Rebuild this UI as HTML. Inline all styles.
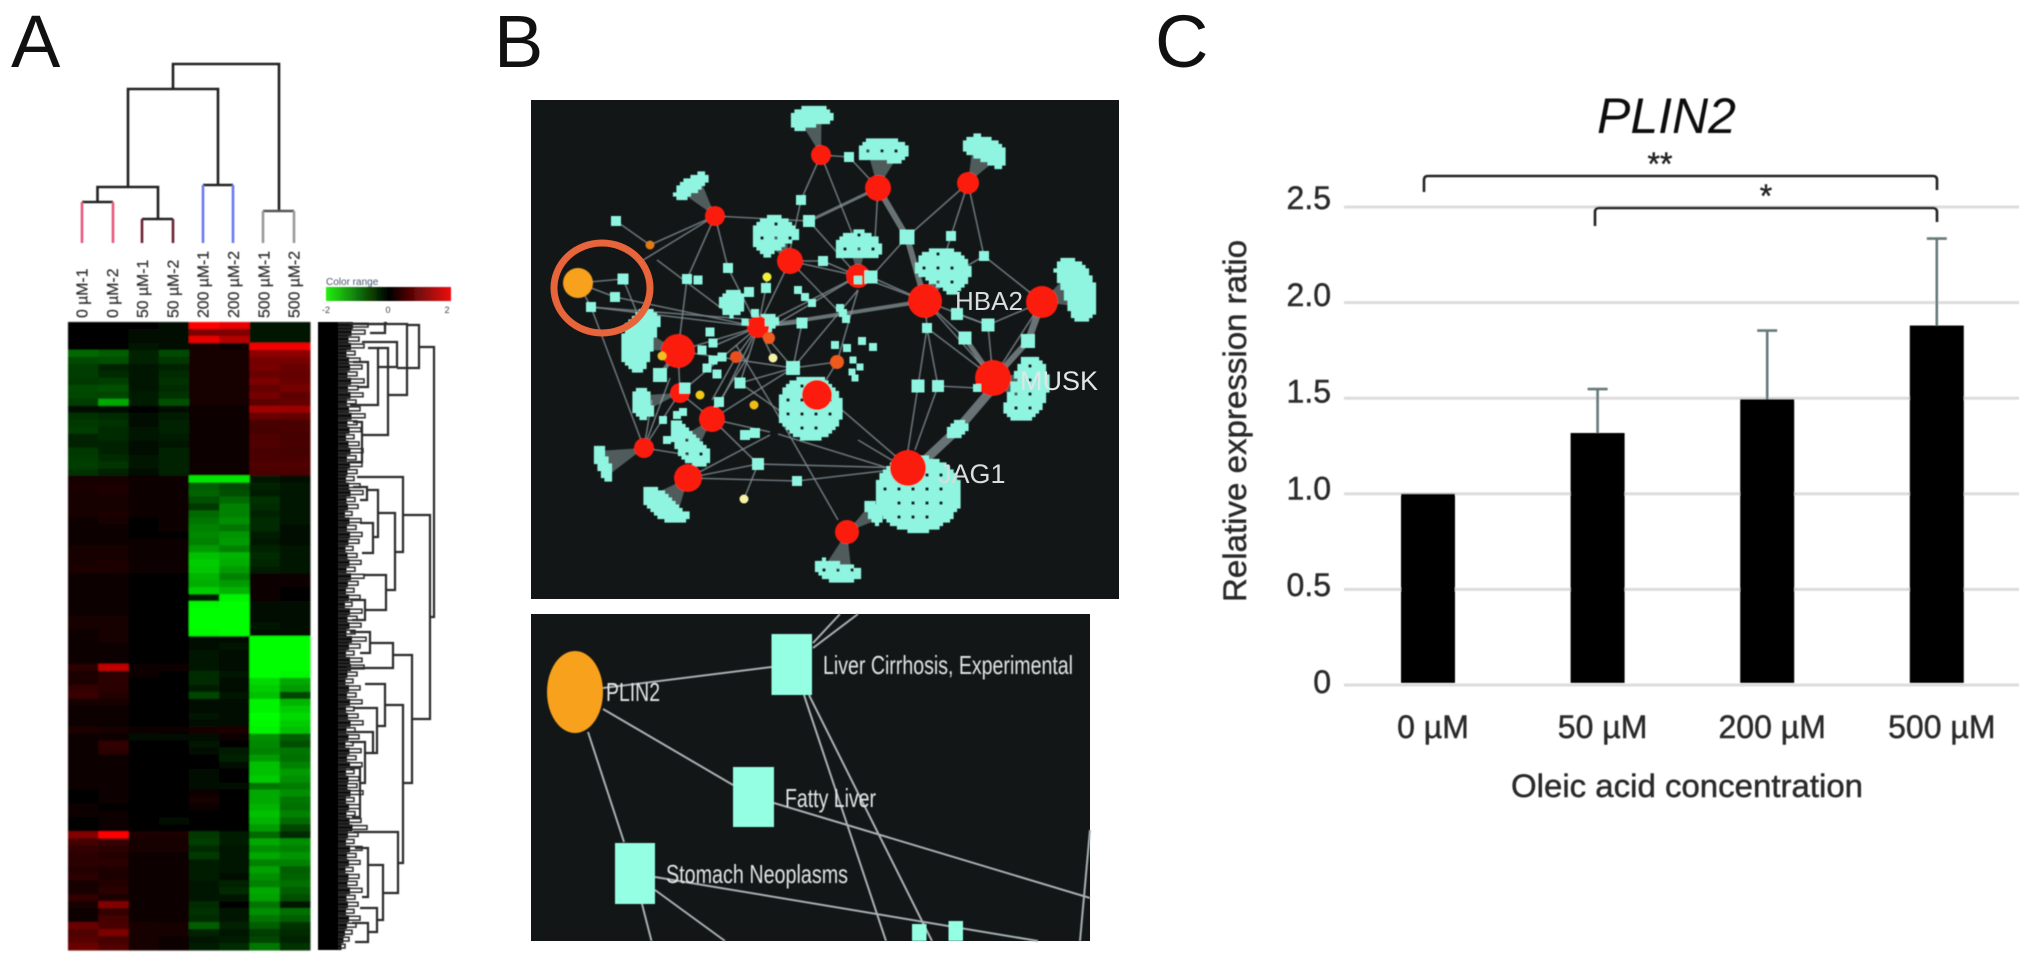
<!DOCTYPE html>
<html lang="en">
<head>
<meta charset="utf-8">
<title>PLIN2 expression figure</title>
<style>
html,body{margin:0;padding:0;background:#fff;width:2031px;height:963px;overflow:hidden}
svg{display:block}
text{font-family:"Liberation Sans",sans-serif}
#panelC text{stroke:#2a2a2a;stroke-width:.45px}
#colLabels text{stroke:#333;stroke-width:.25px}
</style>
</head>
<body>
<svg id="figure" xmlns="http://www.w3.org/2000/svg" width="2031" height="963" viewBox="0 0 2031 963">
<defs>
<filter id="soft" x="-5%" y="-5%" width="110%" height="110%"><feGaussianBlur stdDeviation="0.9"/></filter>
<filter id="softer" x="-5%" y="-5%" width="110%" height="110%"><feGaussianBlur stdDeviation="0.45"/></filter>
<linearGradient id="colorRange" x1="0" x2="1" y1="0" y2="0">
<stop offset="0" stop-color="#22f010"/><stop offset="0.5" stop-color="#000"/><stop offset="1" stop-color="#f01010"/>
</linearGradient>
</defs>
<rect width="2031" height="963" fill="#fff"/>

<text x="11" y="67" font-size="74" fill="#111">A</text>
<text x="494" y="67" font-size="74" fill="#111">B</text>
<text x="1155" y="67" font-size="74" fill="#111">C</text>

<g id="panelA">
  <g id="colDendro" filter="url(#softer)" fill="none" stroke-width="2.6"></g>
  <g id="colLabels" filter="url(#softer)"></g>
  <g id="heatCells" filter="url(#soft)"></g>
  <g id="rowDendro" filter="url(#softer)"></g>
  <g filter="url(#softer)">
    <text x="326" y="285" font-size="10" fill="#4a5570">Color range</text>
    <rect x="326" y="287" width="125" height="14" fill="url(#colorRange)"/>
    <text x="326" y="313" font-size="9" fill="#444" text-anchor="middle">-2</text>
    <text x="388" y="313" font-size="9" fill="#444" text-anchor="middle">0</text>
    <text x="447" y="313" font-size="9" fill="#444" text-anchor="middle">2</text>
  </g>
</g>

<g id="panelB">
  <rect x="531" y="100" width="588" height="499" fill="#121616"/>
  <g id="netGraph" filter="url(#softer)"></g>
  <ellipse cx="602" cy="288" rx="48" ry="45" fill="none" stroke="#e8643a" stroke-width="7"/>
  <text x="955" y="310" font-size="26" fill="#d8dede">HBA2</text>
  <text x="1020" y="390" font-size="27" fill="#e0e6e6">MUSK</text>
  <text x="938" y="483" font-size="27" fill="#d8dede">JAG1</text>

  <rect x="531" y="614" width="559" height="327" fill="#121616"/>
  <g filter="url(#softer)">
    <g id="detailEdges" stroke="#a9b0b4" stroke-width="2"></g>
    <ellipse cx="575" cy="692" rx="28" ry="41" fill="#f7a11a"/>
    <rect x="771.5" y="634" width="40.5" height="61" fill="#95ffe4"/>
    <rect x="733" y="767" width="41" height="60" fill="#95ffe4"/>
    <rect x="615" y="843" width="40" height="61" fill="#95ffe4"/>
    <rect x="912" y="924" width="14.5" height="17" fill="#95ffe4"/>
    <rect x="948.5" y="921" width="14.5" height="20" fill="#95ffe4"/>
    <text x="606" y="701" font-size="26" fill="#dfe4e4" textLength="54" lengthAdjust="spacingAndGlyphs">PLIN2</text>
    <text x="823" y="674" font-size="26" fill="#dfe4e4" textLength="250" lengthAdjust="spacingAndGlyphs">Liver Cirrhosis, Experimental</text>
    <text x="785" y="807" font-size="26" fill="#dfe4e4" textLength="91" lengthAdjust="spacingAndGlyphs">Fatty Liver</text>
    <text x="666" y="883" font-size="26" fill="#dfe4e4" textLength="182" lengthAdjust="spacingAndGlyphs">Stomach Neoplasms</text>
  </g>
</g>

<g id="panelC" filter="url(#softer)">
  <text x="1597" y="133" font-size="50" font-style="italic" fill="#111" style="stroke:none">PLIN2</text>
  <g id="grid"></g>
  <g id="yTicks"></g>
  <g id="bars"></g>
  <g id="errs"></g>
  <g id="xTicks"></g>
  <text transform="translate(1246,602) rotate(-90)" font-size="32" fill="#2a2a2a" textLength="362" lengthAdjust="spacingAndGlyphs">Relative expression ratio</text>
  <text x="1511" y="797" font-size="32" fill="#2a2a2a" textLength="352" lengthAdjust="spacingAndGlyphs">Oleic acid concentration</text>
  <path d="M1424 192V180Q1424 176 1428 176H1933Q1937 176 1937 180V190" fill="none" stroke="#222" stroke-width="2.6"/>
  <path d="M1595 226V212Q1595 208 1599 208H1933Q1937 208 1937 212V222" fill="none" stroke="#222" stroke-width="2.6"/>
  <text x="1660" y="175" font-size="32" fill="#222" text-anchor="middle">**</text>
  <text x="1766" y="207" font-size="32" fill="#222" text-anchor="middle">*</text>
</g>

<script>
/* ---------- Panel C data ---------- */
const categories = ['0 µM', '50 µM', '200 µM', '500 µM'];
const barValues = [1.0, 1.318, 1.495, 1.88];
const errorTops = [null, 1.548, 1.854, 2.335];
const yTickValues = [0, 0.5, 1.0, 1.5, 2.0, 2.5];
const yTickLabels = ['0', '0.5', '1.0', '1.5', '2.0', '2.5'];

/* ---------- Panel A data ---------- */
const sampleLabels = ['0 µM-1','0 µM-2','50 µM-1','50 µM-2','200 µM-1','200 µM-2','500 µM-1','500 µM-2'];
const heatmapRows = [
[0,0,0,-.05,2,1.8,-.15,-.1],
[0,0,-.05,-.05,1.0,1.0,-.15,-.1],
[0,0,-.05,-.05,1.8,1.4,-.15,-.1],
[0,0,-.1,-.05,.1,.05,1.9,1.9],
[-.8,-.7,-.25,-.55,.15,.15,1.1,1.1],
[-.55,-.6,-.25,-.4,.15,.15,.9,.9],
[-.45,-.25,-.12,-.25,.15,.15,.9,.8],
[-.45,-.3,-.12,-.3,.15,.15,.8,.75],
[-.4,-.45,-.15,-.35,.12,.12,.95,.8],
[-.55,-.6,-.15,-.3,.12,.12,.75,.9],
[-.5,-.5,-.2,-.35,.15,.15,.9,.7],
[-.45,-1.3,-.2,-.6,.12,.15,.7,.75],
[-.05,-.05,0,-.05,.02,.02,1.25,1.2],
[-.35,-.3,-.08,-.2,.05,.05,.8,.75],
[-.4,-.35,-.08,-.22,.05,.04,.55,.55],
[-.45,-.3,-.1,-.22,.05,.04,.5,.55],
[-.25,-.3,-.1,-.18,.04,.03,.6,.5],
[-.25,-.22,-.08,-.15,.04,.03,.6,.55],
[-.4,-.25,-.08,-.22,.05,.03,.55,.5],
[-.42,-.3,-.1,-.22,.05,.03,.55,.55],
[-.45,-.38,-.1,-.25,.05,.03,.6,.6],
[-.35,-.25,-.08,-.22,.04,.03,.55,.55],
[.1,.12,.02,.02,-1.8,-1.8,-.15,-.08],
[.2,.18,.02,.03,-.7,-.55,-.25,-.15],
[.15,.2,.02,.03,-.75,-.6,-.2,-.15],
[.12,.15,.02,.02,-.6,-.8,-.35,-.12],
[.12,.12,.02,.02,-.4,-1.0,-.3,-.1],
[.1,.2,.02,.03,-.8,-1.0,-.25,-.1],
[.08,.15,.01,.02,-.9,-1.1,-.3,-.12],
[.05,.06,.01,.02,-1.0,-.9,-.3,-.08],
[.05,.05,.01,.01,-1.05,-1.15,-.2,-.08],
[.08,.08,.02,.02,-1.0,-1.2,-.15,-.05],
[.1,.1,.02,.02,-1.2,-1.0,-.25,-.1],
[.12,.12,.03,.03,-1.5,-1.4,-.3,-.1],
[.15,.18,.03,.03,-1.6,-1.35,-.28,-.14],
[.2,.2,.03,.03,-1.55,-1.2,-.2,-.12],
[.03,.04,0,0,-1.4,-1.0,.08,.03],
[.02,.03,0,0,-1.35,-1.2,.03,.02],
[.02,.03,0,0,-1.6,-1.4,.02,.01],
[.02,.05,0,0,-.2,-1.9,.02,.01],
[.03,.03,0,0,-1.95,-2,-.03,-.02],
[.05,.05,0,0,-2,-2,-.04,-.02],
[.1,.1,0,0,-2,-2,-.08,-.03],
[.1,.12,0,0,-2,-2,-.1,-.03],
[.08,.1,0,0,-1.95,-2,-.08,-.02],
[.08,.1,0,0,-.02,-.08,-2,-2],
[.05,.06,0,0,-.05,-.1,-2,-2],
[.03,.05,0,0,-.1,-.04,-2,-2],
[.05,.06,0,0,-.1,-.05,-2,-2],
[.3,1.5,.02,.02,-.15,-.05,-2,-2],
[.2,.3,.02,.01,-.3,-.1,-2,-1.95],
[.2,.3,.01,.01,-.3,-.08,-1.7,-1.3],
[.35,.3,.01,.01,-.2,-.05,-1.6,-1.2],
[.4,.25,.01,.01,-.5,-.15,-1.5,-.5],
[.1,.1,0,0,-.05,-.05,-1.9,-1.4],
[.05,.08,0,0,-.05,-.04,-1.9,-1.6],
[.05,.05,0,0,-.1,-.04,-2,-1.7],
[.05,.05,0,0,-.08,-.03,-1.95,-1.6],
[.2,.15,.05,.03,.15,.2,-1.9,-1.5],
[.03,.03,-.04,-.02,-.05,.02,-1.1,-.7],
[.02,.35,0,0,-.12,0,-1.05,-.6],
[.02,.3,0,0,-.05,-.2,-1.0,-.9],
[.02,.08,0,0,0,-.25,-1.2,-.85],
[.02,.05,0,0,0,-.08,-1.5,-1.0],
[.02,.02,0,0,-.02,0,-1.5,-1.2],
[.02,.02,0,0,-.02,0,-1.6,-1.1],
[.02,.02,0,0,-.04,-.02,-.9,-.95],
[0,.03,0,0,.08,0,-1.3,-1.1],
[0,.02,0,0,.15,0,-1.3,-.9],
[.02,0,0,0,.02,0,-1.4,-.85],
[.02,.02,0,0,0,0,-1.5,-1.0],
[0,.02,0,-.03,0,0,-1.4,-.8],
[0,.02,0,0,0,0,-1.2,-.5],
[1.0,2,.2,.2,-.4,-.2,-.8,-.3],
[.5,.4,.12,.15,-.45,-.2,-1.3,-1.1],
[.35,.3,.1,.1,-.3,-.15,-1.1,-1.0],
[.3,.25,.08,.08,-.4,-.12,-1.3,-1.15],
[.3,.3,.05,.05,-.2,-.12,-1.0,-1.0],
[.25,.2,.05,.05,-.2,-.1,-1.25,-.7],
[.3,.2,.05,.05,-.2,-.08,-1.1,-.75],
[.15,.25,.05,.04,-.15,-.25,-1.0,-.85],
[.1,.3,.05,.04,-.15,-.3,-1.3,-.7],
[.35,.2,.05,.04,-.1,-.1,-1.25,-.6],
[.15,1.0,.05,.04,-.3,0,-.9,-.1],
[.08,.35,.06,.05,-.35,-.1,-1.1,-.85],
[.05,.5,.08,.07,-.3,-.1,-.9,-.7],
[.8,.55,.12,.1,-.7,-.25,-.7,-.35],
[.6,.95,.12,.1,-.25,-.1,-.45,-.3],
[.65,.5,.1,.08,-.12,-.2,-.5,-.25],
[.8,.6,.1,.08,-.2,-.3,-.9,-.35]
];
const leafDepths = [30,27,21,26,17,22,24,19,26,20,25,18,22,27,19,23,16,21,25,18,24,19,16,22,25,17,20,14,23,18,24,21,15,19,23,17,26,20,16,22,14,24,19,23,17,28,22,16,24,26,19,15,22,18,24,16,20,25,17,21,15,23,18,24,16,21,19,25,16,22,17,23,29,20,16,24,18,22,15,21,19,24,17,20,16,22,18,14,11,7];
/* [merge distance, upper leaf, upper child distance, lower leaf, lower child distance] */
const rowMerges = [
[89,25,75,295,84],[74,3,62,46,52],[62,2,15,73,43],[52,20,17,45,33],[43,26,33,113,17],
[33,26,23,83,5],[23,40,8,65,12],[17,100,8,140,3],[40,1,42,8,40],[40,2,5,11,25],
[85,193,58,397,67],[58,155,12,230,50],[50,191,33,268,41],[33,168,22,215,28],[22,165,8,178,15],
[28,201,15,231,17],[41,253,18,288,20],[20,278,5,298,7],[67,333,48,461,58],[48,321,25,346,2],
[25,310,5,331,15],[58,383,40,541,53],[40,362,20,404,32],[32,386,8,431,28],[28,410,2,431,20],
[20,420,5,461,15],[15,446,5,495,7],[53,510,8,571,38],[38,543,23,598,32],[23,526,10,575,17],
[32,586,15,610,23],[23,601,7,620,10]
];

/* ---------- Panel B layout ---------- */
const hubs = [[821,155,10],[878,188,13],[968,183,11],[715,216,10],[790,261,13],[858,276,12],[925,301,17],[1042,302,16],[993,378,18],[758,327,11],[678,351,17],[680,393,10],[712,419,13],[644,448,10],[688,478,14],[847,532,12],[908,468,18],[817,395,15]];
const minorNodes = [[769,338,6,'#f05a1e'],[736,357,6,'#e8501e'],[837,362,7,'#ee5a1e'],[650,245,4.5,'#e07a18'],[767,277,4.5,'#eef03c'],[662,356,4.5,'#f0c020'],[700,395,4.5,'#f0c818'],[754,405,4.5,'#f0bc18'],[773,358,4.5,'#f6f2a8'],[744,499,4.5,'#f7f3a5']];
const squareNodes = [[616,221,10],[623,279,11],[615,297,10],[591,307,10],[687,279,10],[698,280,9],[728,268,10],[749,292,10],[766,288,10],[802,323,11],[823,261,10],[809,221,12],[801,200,10],[849,157,10],[793,368,14],[740,383,11],[719,402,10],[758,464,12],[797,481,10],[951,236,10],[984,256,10],[988,325,13],[927,328,10],[918,386,13],[938,386,12],[977,388,8],[957,314,12],[858,280,8],[871,277,13],[835,345,8],[847,348,8],[862,341,8],[873,347,8],[798,290,8],[805,297,8],[812,303,8],[840,308,8],[843,313,8],[846,319,8],[702,350,9],[713,343,9],[710,332,9],[722,357,9],[713,360,9],[707,368,9],[717,374,9],[660,375,14],[685,388,11],[663,420,8],[677,415,8],[683,412,8],[667,440,8],[853,360,7],[860,367,7],[852,372,7],[855,378,7],[745,435,10],[755,433,10],[965,338,13],[1028,341,14],[907,237,15],[769,322,8],[755,313,8],[745,322,7]];
/* cx, cy, rx, ry, rotation, hub index (-1 none), fan half-width, dotted */
const clusters = [[811,119,21,13,-10,0,11,0],[883,152,25,15,0,1,16,1],[985,152,23,15,25,2,14,0],[692,187,20,10,-35,3,11,0],[775,237,23,21,0,4,12,1],[858,248,23,17,0,5,8,1],[942,272,28,24,0,6,12,1],[1075,290,20,33,-20,7,18,0],[1025,389,23,33,15,8,18,1],[732,303,12,14,10,-1,0,0],[642,340,20,32,15,10,10,0],[644,403,12,16,0,11,8,0],[690,443,15,27,-35,12,10,1],[604,463,8,18,-20,13,13,0],[665,505,26,14,35,14,16,0],[838,570,24,12,10,15,14,1],[918,494,43,38,0,16,0,1],[810,408,32,32,0,17,0,1],[873,513,9,13,-30,15,8,0],[957,430,11,8,-30,-1,0,0],[769,322,9,9,0,9,0,0]];
const edges = [[616,221,650,245],[650,245,715,216],[640,262,715,216],[623,279,578,283],[615,297,578,283],[591,307,578,283],[623,279,640,320],[615,297,758,327],[591,307,758,327],[591,307,758,320],[591,307,644,448],[657,260,733,317],[715,216,687,279],[687,279,678,351],[715,216,728,268],[728,268,758,327],[715,216,809,221],[801,200,821,155],[801,200,790,250],[821,155,852,233],[849,157,821,155],[849,157,878,188],[809,221,858,276],[878,188,875,240],[968,183,907,237],[968,183,951,236],[951,236,945,255],[968,183,984,256],[984,256,1042,302],[984,256,960,270],[907,237,871,277],[858,276,925,301],[871,277,925,301],[790,261,858,276],[790,261,823,261],[823,261,858,276],[790,261,846,319],[858,276,758,327],[858,276,758,335],[790,261,758,327],[766,288,758,327],[766,288,767,277],[925,301,988,325],[988,325,1042,302],[925,301,993,378],[988,325,993,378],[1042,302,993,378],[925,301,927,328],[927,328,993,378],[927,328,918,386],[927,328,938,386],[918,386,908,450],[938,386,915,450],[938,386,977,388],[925,301,965,338],[957,314,988,325],[908,468,758,464],[908,468,797,481],[797,481,688,478],[758,464,688,478],[778,434,888,468],[858,440,900,465],[842,410,900,460],[688,478,770,435],[712,419,770,432],[712,419,758,464],[758,464,744,499],[644,448,688,455],[838,520,775,410],[775,410,736,345],[793,368,758,327],[793,368,802,323],[793,368,837,362],[793,368,858,290],[793,368,740,383],[793,368,712,419],[793,368,678,351],[758,327,678,351],[758,327,736,357],[758,327,712,419],[758,327,680,393],[758,327,740,383],[758,327,773,358],[758,327,802,323],[758,327,716,345],[678,351,680,393],[680,393,712,419],[644,448,675,400],[712,419,719,402],[719,402,749,355],[740,383,793,420],[736,357,712,400],[837,362,817,395],[837,362,858,290],[644,448,670,378],[644,448,652,400]];
const thickEdges = [[809,221,878,188,3],[878,188,907,237,6],[907,237,925,301,6],[925,301,758,327,4],[1042,302,1028,341,7],[1028,341,1000,372,6],[965,338,993,378,5],[993,388,957,430,9],[957,430,925,460,9],[678,351,660,375,4]];
const detailEdgeList = [[603,688,771.5,667],[603,709,733,785],[588,732,624,842],[813,643,840,614],[813,648,858,614],[804,695,886,941],[809,695,932,941],[774,803,1090,898],[655,877,1038,941],[655,890,725,941],[642,904,651.5,941],[1090,830,1080,941]];

/* ---------- helpers ---------- */
const NS = 'http://www.w3.org/2000/svg';
function mk(tag, attrs, parent){
  const e = document.createElementNS(NS, tag);
  for (const k in attrs) e.setAttribute(k, attrs[k]);
  parent.appendChild(e);
  return e;
}
const $ = id => document.getElementById(id);

/* ---------- Panel C ---------- */
const yScale = v => 685 - v * 191.2;
const xBand = i => 1428 + i * 169.6;
const BAR_W = 54;
yTickValues.forEach((v, i) => {
  const line = mk('rect', {x:1344, y:yScale(v)-1.5, width:675, height:3, fill:'#dcdcdc'}, $('grid'));
  
  
  const t = mk('text', {x:1331, y:yScale(v)+8-v*2.4, 'font-size':32, fill:'#2a2a2a', 'text-anchor':'end'}, $('yTicks'));
  t.textContent = yTickLabels[i];
  
  
});
categories.forEach((c, i) => {
  const bar = mk('rect', {x:xBand(i)-BAR_W/2, y:yScale(barValues[i]), width:BAR_W, height:683-yScale(barValues[i]), fill:'#050505'}, $('bars'));
  
  
  const t = mk('text', {x:xBand(i)+5, y:738, 'font-size':32, fill:'#2a2a2a', 'text-anchor':'middle'}, $('xTicks'));
  t.textContent = c;
  
  
  if (errorTops[i] !== null) {
    const err = mk('path', {d:'M'+xBand(i)+' '+yScale(barValues[i])+'V'+yScale(errorTops[i])+'M'+(xBand(i)-10)+' '+yScale(errorTops[i])+'H'+(xBand(i)+10), fill:'none', stroke:'#66797a', 'stroke-width':2.6}, $('errs'));
    
    
  }
});

/* ---------- Panel A: heatmap ---------- */
const heatX = c => 68 + c * 30.25;
const heatY = r => 322 + r * (628 / heatmapRows.length);
function heatColor(v){
  const a = Math.min(1, Math.abs(v) / 2);
  const n = Math.round(5 + a * 250);
  return v >= 0 ? 'rgb('+n+',5,5)' : 'rgb(5,'+n+',5)';
}
heatmapRows.forEach((row, r) => {
  row.forEach((v, c) => {
    const cell = mk('rect', {x:heatX(c), y:heatY(r), width:30.75, height:628/heatmapRows.length+0.5, fill:heatColor(v)}, $('heatCells'));
    
    
  });
});
sampleLabels.forEach((s, i) => {
  const centers = 82 + i * 30.3;
  const t = mk('text', {transform:'translate('+(centers+5.5)+',318) rotate(-90)', 'font-size':15.8, fill:'#333'}, $('colLabels'));
  t.textContent = s;
  
  
});

/* column dendrogram */
const colSegments = [
 ['#222','M173 89V64H279V211'],
 ['#222','M128 187V89H218V185'],
 ['#222','M97.5 202V187H158V219'],
 ['#222','M82 202H113'],
 ['#e8587a','M82 202V243M113 202V243'],
 ['#222','M142 219H173'],
 ['#6a2232','M142 219V243M173 219V243'],
 ['#222','M203 185H233'],
 ['#6a78f0','M203 185V243M233 185V243'],
 ['#555','M263 211H294'],
 ['#999','M263 211V243M294 211V243']
];
colSegments.forEach(s => {
  const p = mk('path', {d:s[1], stroke:s[0]}, $('colDendro'));
  
  
});

/* row dendrogram */
const distX = d => 345 + d;
const leafY = l => 322 + l;
const blockBg = mk('rect', {x:318, y:322, width:20, height:628, fill:'#050505'}, $('rowDendro'));


leafDepths.forEach((d, r) => {
  const y = heatY(r);
  const a = mk('rect', {x:338, y:y, width:d*0.5, height:7, fill:'#0a0a0a'}, $('rowDendro'));
  
  
  const b = mk('path', {d:'M338 '+(y+1.2)+'H'+(338+d)+'V'+(y+5)+'H338', fill:'none', stroke:'#2a2a2a', 'stroke-width':1.5}, $('rowDendro'));
  
  
});
rowMerges.forEach(m => {
  const d = 'M'+distX(m[2])+' '+leafY(m[1])+'H'+distX(m[0])+'V'+leafY(m[3])+'H'+distX(m[4]);
  const p = mk('path', {d:d, fill:'none', stroke:'#2a2a2a', 'stroke-width':2.2}, $('rowDendro'));
  
  
});

/* ---------- Panel B ---------- */
const g = $('netGraph');
edges.forEach(e => {
  const l = mk('line', {x1:e[0], y1:e[1], x2:e[2], y2:e[3], stroke:'#7d8a90', 'stroke-width':1.6, 'stroke-opacity':.8}, g);
  
  
});
thickEdges.forEach(e => {
  const l = mk('line', {x1:e[0], y1:e[1], x2:e[2], y2:e[3], stroke:'#8d9a9e', 'stroke-width':e[4], 'stroke-opacity':.7}, g);
  
  
});
clusters.forEach(c => {
  const cx=c[0], cy=c[1], rx=c[2], ry=c[3], rot=c[4]*Math.PI/180, hub=c[5], w=c[6], dotted=c[7];
  let tx=0, ty=0;
  if (hub >= 0 && w > 0) {
    const h = hubs[hub];
    const dx=cx-h[0], dy=cy-h[1], L=Math.hypot(dx,dy)||1;
    tx=-dx/L; ty=-dy/L;
    const px=-dy/L*w, py=dx/L*w;
    const fan = mk('polygon', {points:h[0]+','+h[1]+' '+(cx+px)+','+(cy+py)+' '+(cx-px)+','+(cy-py), fill:'#a8bcbc', 'fill-opacity':.42}, g);
    
    
  }
  const cos=Math.cos(rot), sin=Math.sin(rot);
  const R=Math.max(rx,ry)+4, STEP=3.5;
  const cut=0.6*Math.min(rx,ry);
  let ix=0;
  for (let x=-R; x<=R; x+=STEP, ix++) {
    let iy=0;
    for (let y=-R; y<=R; y+=STEP, iy++) {
      const u=(x*cos+y*sin)/rx, v=(-x*sin+y*cos)/ry;
      const q=u*u+v*v;
      if (q>1) continue;
      if ((tx||ty) && x*tx+y*ty>cut) continue;
      if (dotted && q<.62 && ix%4===0 && iy%4===0) continue;
      const s = mk('rect', {x:cx+x-2.1, y:cy+y-2.1, width:4.2, height:4.2, fill:'#8ff5e0'}, g);
      
      
    }
  }
});
hubs.forEach(h => {
  const n = mk('circle', {cx:h[0], cy:h[1], r:h[2], fill:'#fb1c10'}, g);
  
  
});
squareNodes.forEach(s => {
  const n = mk('rect', {x:s[0]-s[2]/2, y:s[1]-s[2]/2, width:s[2], height:s[2], fill:'#8ff5e0'}, g);
  
  
});
minorNodes.forEach(m => {
  const n = mk('circle', {cx:m[0], cy:m[1], r:m[2], fill:m[3]}, g);
  
  
});
const plinNode = mk('circle', {cx:578, cy:283, r:15, fill:'#f7a11a'}, g);



detailEdgeList.forEach(e => {
  const l = mk('line', {x1:e[0], y1:e[1], x2:e[2], y2:e[3]}, $('detailEdges'));
  
  
});
</script>
</svg>
</body>
</html>
